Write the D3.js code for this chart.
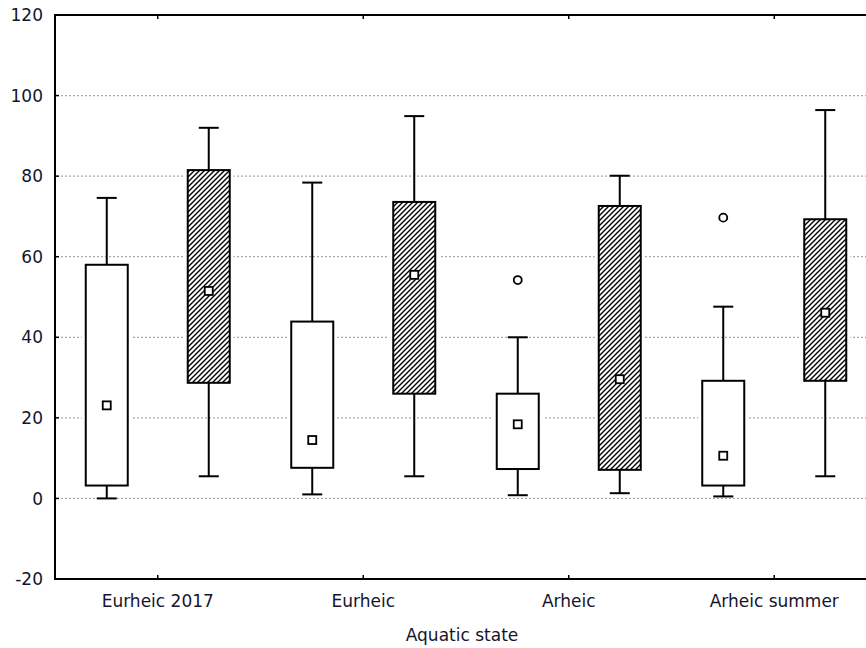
<!DOCTYPE html>
<html><head><meta charset="utf-8">
<script src="https://cdn.jsdelivr.net/npm/d3@7"></script>
<style>html,body{margin:0;padding:0;background:#fff}svg{display:block}</style>
</head><body>
<script>
const categories = ["Eurheic 2017","Eurheic","Arheic","Arheic summer"];
const yTicks = [-20,0,20,40,60,80,100,120];
// Series 1 (open boxes)
const s1Min     = [0, 1, 0.8, 0.5];
const s1Q1      = [3.2, 7.6, 7.3, 3.2];
const s1Q3      = [58, 43.9, 26, 29.2];
const s1Max     = [74.6, 78.4, 40, 47.6];
const s1Mean    = [23.1, 14.5, 18.4, 10.6];
const s1Outlier = [null, null, 54.2, 69.7];
// Series 2 (hatched boxes)
const s2Min     = [5.5, 5.5, 1.3, 5.5];
const s2Q1      = [28.7, 26, 7.1, 29.2];
const s2Q3      = [81.5, 73.6, 72.6, 69.3];
const s2Max     = [92, 94.9, 80.1, 96.4];
const s2Mean    = [51.5, 55.5, 29.6, 46.1];
const s2Outlier = [null, null, null, null];

(function(){
const W = 866, H = 648;
const pLeft = 55, pRight = 877, pTop = 15, pBottom = 579;
const svg = d3.select("body").append("svg").attr("width", W).attr("height", H);
const font = "'DejaVu Sans', Verdana, sans-serif";
const txt = "#15152e";

const defs = svg.append("defs");
const pat = defs.append("pattern").attr("id","hatch").attr("patternUnits","userSpaceOnUse")
  .attr("width",5).attr("height",5);
pat.append("rect").attr("width",5).attr("height",5).attr("fill","#fff");
pat.append("path").attr("d","M-1,1 l2,-2 M0,5 l5,-5 M4,6 l2,-2")
  .attr("stroke","#000").attr("stroke-width",1.4);

const x = d3.scaleBand().domain(categories).range([pLeft, pRight]);
const sub = d3.scalePoint().domain(["s1","s2"]).range([-51, 51]);
const y = d3.scaleLinear().domain([-20, 120]).range([pBottom, pTop]);

svg.append("g").selectAll("line").data(yTicks.filter(t => t > -20 && t < 120)).join("line")
  .attr("x1", pLeft + 6).attr("x2", pRight).attr("y1", d => y(d)).attr("y2", d => y(d))
  .attr("stroke", "#a8a8a8").attr("stroke-width", 1.2).attr("stroke-dasharray", "2,2");

const series = [
  {key:"s1", min:s1Min, q1:s1Q1, q3:s1Q3, max:s1Max, mean:s1Mean, out:s1Outlier, fill:"#fff"},
  {key:"s2", min:s2Min, q1:s2Q1, q3:s2Q3, max:s2Max, mean:s2Mean, out:s2Outlier, fill:"url(#hatch)"}
];
const bw = 42, cap = 20;
const halo = svg.append("g"), g = svg.append("g");
series.forEach(s => {
  categories.forEach((c, i) => {
    const cx = x(c) + x.bandwidth()/2 + sub(s.key);
    halo.append("rect").attr("x",cx-bw/2).attr("width",bw).attr("y",y(s.q3[i]))
      .attr("height",y(s.q1[i])-y(s.q3[i])).attr("fill","#fff").attr("stroke","#fff").attr("stroke-width",8);
    g.append("line").attr("x1",cx).attr("x2",cx).attr("y1",y(s.max[i])).attr("y2",y(s.q3[i]))
      .attr("stroke","#000").attr("stroke-width",2);
    g.append("line").attr("x1",cx).attr("x2",cx).attr("y1",y(s.q1[i])).attr("y2",y(s.min[i]))
      .attr("stroke","#000").attr("stroke-width",2);
    g.append("line").attr("x1",cx-cap/2).attr("x2",cx+cap/2).attr("y1",y(s.max[i])).attr("y2",y(s.max[i]))
      .attr("stroke","#000").attr("stroke-width",2);
    g.append("line").attr("x1",cx-cap/2).attr("x2",cx+cap/2).attr("y1",y(s.min[i])).attr("y2",y(s.min[i]))
      .attr("stroke","#000").attr("stroke-width",2);
    g.append("rect").attr("x",cx-bw/2).attr("width",bw).attr("y",y(s.q3[i]))
      .attr("height",y(s.q1[i])-y(s.q3[i])).attr("fill",s.fill).attr("stroke","#000").attr("stroke-width",2);
    g.append("rect").attr("x",cx-4).attr("y",y(s.mean[i])-4).attr("width",8).attr("height",8)
      .attr("fill","#fff").attr("stroke","#000").attr("stroke-width",1.8);
    if (s.out[i] != null) {
      g.append("circle").attr("cx",cx).attr("cy",y(s.out[i])).attr("r",4)
        .attr("fill","#fff").attr("stroke","#000").attr("stroke-width",1.8);
    }
  });
});

svg.append("rect").attr("x",pLeft).attr("y",pTop).attr("width",pRight-pLeft).attr("height",pBottom-pTop)
  .attr("fill","none").attr("stroke","#000").attr("stroke-width",2);

const ya = svg.append("g");
ya.selectAll("line").data(yTicks).join("line")
  .attr("x1",pLeft).attr("x2",pLeft+4).attr("y1",d=>y(d)).attr("y2",d=>y(d))
  .attr("stroke","#000").attr("stroke-width",1.5);
ya.selectAll("text").data(yTicks).join("text")
  .attr("x",43).attr("y",d=>y(d)).attr("dy","0.36em").attr("text-anchor","end")
  .attr("font-family",font).attr("font-size",17).attr("fill",txt).text(d=>d);

const xa = svg.append("g");
categories.forEach(c => {
  const cx = x(c) + x.bandwidth()/2;
  xa.append("line").attr("x1",cx).attr("x2",cx).attr("y1",pBottom).attr("y2",pBottom-4).attr("stroke","#000").attr("stroke-width",1.5);
  xa.append("line").attr("x1",cx).attr("x2",cx).attr("y1",pTop).attr("y2",pTop+4).attr("stroke","#000").attr("stroke-width",1.5);
  xa.append("text").attr("x",cx).attr("y",607).attr("text-anchor","middle")
    .attr("font-family",font).attr("font-size",17).attr("fill",txt).text(c);
});
svg.append("text").attr("x",462).attr("y",641).attr("text-anchor","middle")
  .attr("font-family",font).attr("font-size",17).attr("fill",txt).text("Aquatic state");
})();
</script>
</body></html>
